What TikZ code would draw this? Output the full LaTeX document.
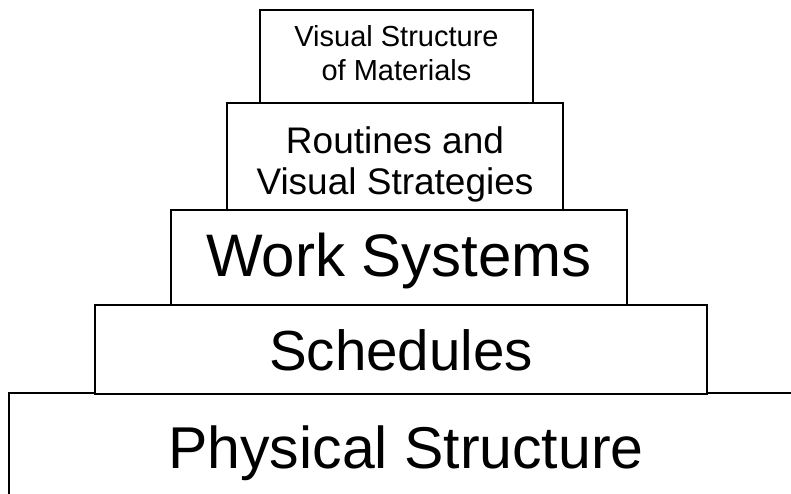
\documentclass[tikz,border=0pt]{standalone}
\usepackage{fontspec}
\setmainfont{Liberation Sans}
\begin{document}
\begin{tikzpicture}[x=1pt,y=-1pt,
  tier/.style={draw=black, line width=1.6pt, rectangle, inner sep=0pt, fill=white},
  tierlabel/.style={inner sep=0pt, align=center},
]
\useasboundingbox (0,0) rectangle (791,494);
\clip (0,0) rectangle (791,494);
\node[tier, minimum width=794pt, minimum height=106pt] (phys) at (406,446) {};
\node[tier, minimum width=612pt, minimum height=89pt] (sched) at (401,349.5) {};
\node[tier, minimum width=456pt, minimum height=95pt] (work) at (399,257.5) {};
\node[tier, minimum width=336pt, minimum height=107pt] (rout) at (395,156.5) {};
\node[tier, minimum width=273pt, minimum height=93pt] (vis) at (396.5,56.5) {};
\node[tierlabel, font=\fontsize{59}{66}\selectfont, yshift=-7pt] (physl) at (phys.center) {Physical Structure};
\node[tierlabel, font=\fontsize{56.5}{64}\selectfont, yshift=-1pt] (schedl) at (sched.center) {Schedules};
\node[tierlabel, font=\fontsize{60}{68}\selectfont, yshift=-3pt] (workl) at (work.center) {Work Systems};
\node[tierlabel, font=\fontsize{37}{41.5}\selectfont, yshift=-8pt] (routl) at (rout.center) {Routines and\\Visual Strategies};
\node[tierlabel, font=\fontsize{29}{34}\selectfont, yshift=3.5pt] (visl) at (vis.center) {Visual Structure\\of Materials};
\end{tikzpicture}
\end{document}
